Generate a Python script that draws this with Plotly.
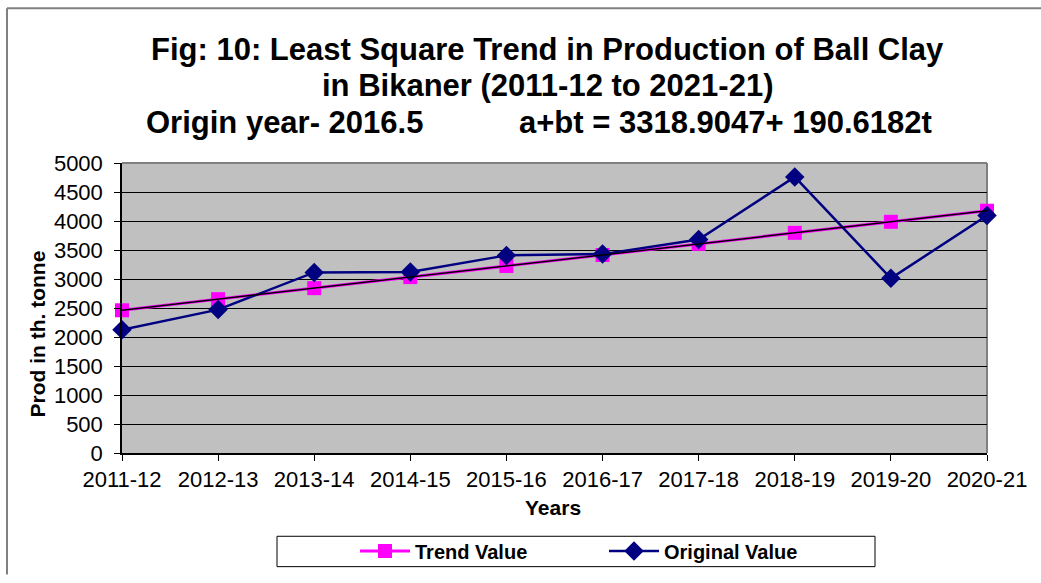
import plotly.graph_objects as go

years = ["2011-12", "2012-13", "2013-14", "2014-15", "2015-16",
         "2016-17", "2017-18", "2018-19", "2019-20", "2020-21"]
trend_value = [2461, 2652, 2842, 3033, 3224, 3414, 3605, 3796, 3986, 4177]
original_value = [2123, 2472, 3114, 3120, 3407, 3429, 3682, 4760, 3012, 4093]

FONT = "Liberation Sans, Arial, sans-serif"

W, H = 1041, 583
L, R, T, B = 122, 987, 163, 459   # plot area in pixels
def px(x):
    return (x - L) / (R - L)
def py(y):
    return (B - y) / (B - T)

fig = go.Figure()
fig.add_trace(go.Scatter(
    x=years, y=trend_value, name="Trend Value", mode="lines+markers",
    line=dict(color="#FF00FF", width=3),
    marker=dict(symbol="square", size=14, color="#FF00FF"),
    cliponaxis=False))
fig.add_trace(go.Scatter(
    x=years, y=original_value, name="Original Value", mode="lines+markers",
    line=dict(color="#000080", width=2.5),
    marker=dict(symbol="diamond", size=15, color="#000080"),
    cliponaxis=False))
fig.add_trace(go.Scatter(
    x=years, y=trend_value, mode="lines", showlegend=False, hoverinfo="skip",
    line=dict(color="#000000", width=1.5), cliponaxis=False))

border = dict(color="#808080", width=2)
shapes = [
    # outer chart border (top and left edges visible)
    dict(type="line", xref="paper", yref="paper",
         x0=px(7), x1=px(W), y0=py(5), y1=py(5), line=border),
    dict(type="line", xref="paper", yref="paper",
         x0=px(7), x1=px(7), y0=py(5), y1=py(H), line=border),
    # plot area top/right border
    dict(type="line", xref="paper", yref="paper", x0=0, x1=1, y0=1, y1=1,
         line=border, layer="between"),
    dict(type="line", xref="paper", yref="paper", x0=1, x1=1, y0=0, y1=1,
         line=border, layer="between"),
    # legend box
    dict(type="rect", xref="paper", yref="paper",
         x0=px(277), x1=px(875), y0=py(575), y1=py(544),
         line=dict(color="#000000", width=1), fillcolor="white", layer="below"),
]

ann = [
    dict(text="<b>Fig: 10: Least Square Trend in Production of Ball Clay</b>",
         x=px(547), y=py(47), font=dict(size=31)),
    dict(text="<b>in Bikaner (2011-12 to 2021-21)</b>",
         x=px(547), y=py(84), font=dict(size=31)),
    dict(text="<b>Origin year- 2016.5</b>",
         x=px(284), y=py(122), font=dict(size=31)),
    dict(text="<b>a+bt = 3318.9047+ 190.6182t</b>",
         x=px(725), y=py(122), font=dict(size=31)),
    dict(text="<b>Years</b>", x=px(553), y=py(515), font=dict(size=21)),
    dict(text="<b>Prod in th. tonne</b>", x=px(37), y=py(338),
         font=dict(size=21), textangle=-90),
]
for a in ann:
    a.update(xref="paper", yref="paper", showarrow=False,
             xanchor="center", yanchor="middle")
    a["font"].update(family=FONT, color="black")

fig.update_layout(
    width=W, height=H,
    margin=dict(l=L, r=W - R, t=T, b=H - B),
    paper_bgcolor="white", plot_bgcolor="#C0C0C0",
    font=dict(family=FONT, color="black", size=22),
    shapes=shapes, annotations=ann,
    showlegend=True,
    legend=dict(orientation="h", x=px(355), y=py(559), xanchor="left",
                yanchor="middle", bgcolor="rgba(0,0,0,0)", borderwidth=0,
                font=dict(family=FONT, size=20, color="black", weight="bold"),
                itemwidth=50, entrywidth=184, entrywidthmode="pixels",
                traceorder="normal"),
)
fig.update_xaxes(
    type="category", range=[0, len(years) - 1], showgrid=False,
    showline=True, linecolor="black", linewidth=1.5,
    ticks="outside", ticklen=6, tickcolor="black",
    tickfont=dict(size=22), zeroline=False, fixedrange=True)
fig.update_yaxes(
    range=[0, 5000], dtick=500, showgrid=True, gridcolor="black", gridwidth=1,
    showline=True, linecolor="black", linewidth=1.5,
    ticks="outside", ticklen=6, tickcolor="black", ticklabelstandoff=7,
    tickfont=dict(size=22), zeroline=False, fixedrange=True)

fig.write_html(
    "out.html",
    config={"displayModeBar": False},
    post_script="document.body.style.margin='0';"
                "document.body.style.overflow='hidden';")
